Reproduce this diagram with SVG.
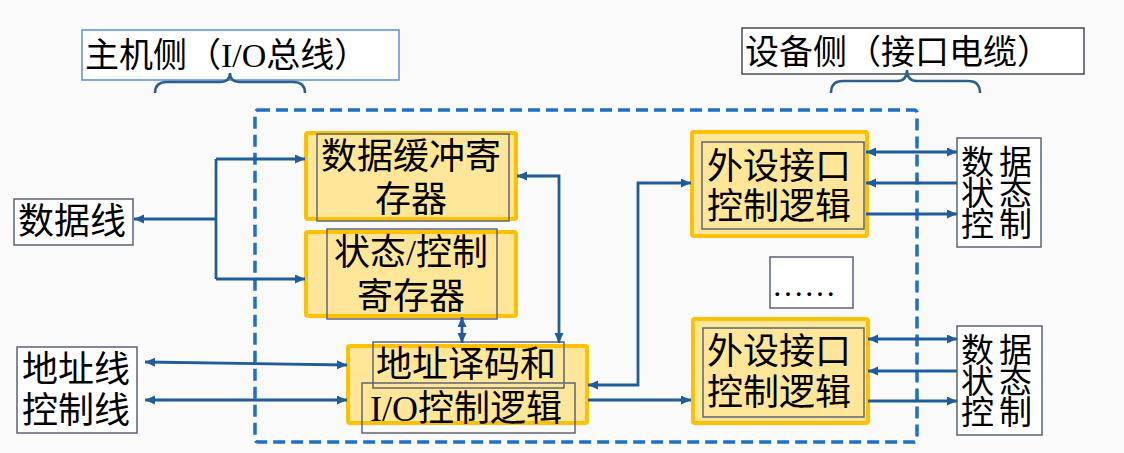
<svg xmlns="http://www.w3.org/2000/svg" width="1124" height="453" viewBox="0 0 1124 453">
<style>
  .t { font-family: "Liberation Serif", "Noto Sans CJK SC", serif; fill: #000; }
  .t34 { font-size: 34px; }
  .t36 { font-size: 36px; }
  .dev { font-size: 33px; letter-spacing: 5px; }
  .mid { text-anchor: middle; }
  .obox { fill: #ffe699; stroke: #ffc000; stroke-width: 4; }
  .ibox { fill: none; stroke: #5d6575; stroke-width: 1.5; }
  .lbox { fill: #ffffff; stroke: #5a6478; stroke-width: 1.5; }
  .conn { fill: none; stroke: #1f5c99; stroke-width: 2.8; }
  .brace { fill: none; stroke: #2e5f8a; stroke-width: 2.5; }
</style>
<defs>
  <marker id="arr" markerUnits="userSpaceOnUse" markerWidth="11" markerHeight="10" refX="10" refY="4.5" orient="auto-start-reverse">
    <path d="M0,0 L10,4.5 L0,9 z" fill="#1f5c99"/>
  </marker>
</defs>
<rect x="0" y="0" width="1124" height="453" fill="#fafafa"/>

<g id="host-title">
  <rect x="82" y="30" width="317" height="50" fill="#ffffff" stroke="#5b8fd9" stroke-width="1.5"/>
  <text class="t t34" x="85" y="67">主机侧（I/O总线）</text>
</g>
<g id="device-title">
  <rect x="742" y="28" width="342" height="46" fill="#ffffff" stroke="#444a55" stroke-width="1.5"/>
  <text class="t t34" x="745" y="64">设备侧（接口电缆）</text>
</g>
<g id="braces">
  <path class="brace" d="M155,93 Q155,82 167,82 L220,82 Q230,82 230,73 Q230,82 240,82 L293,82 Q305,82 305,93"/>
  <path class="brace" d="M831,93 Q831,81 843,81 L897,81 Q907,81 907,70 Q907,81 917,81 L968,81 Q980,81 980,93"/>
</g>

<g id="interface-boundary">
  <rect x="255" y="110" width="662" height="332" rx="3" fill="none" stroke="#1e6fc8" stroke-width="3.5" stroke-dasharray="12 6"/>
</g>

<g id="data-line">
  <rect class="lbox" x="14" y="199" width="119" height="46"/>
  <text class="t t36 mid" x="72" y="234">数据线</text>
</g>
<g id="addr-ctrl-line">
  <rect class="lbox" x="17" y="347" width="120" height="86"/>
  <text class="t t36 mid" x="76" y="382">地址线</text>
  <text class="t t36 mid" x="76" y="423">控制线</text>
</g>

<g id="data-buffer-reg">
  <rect class="obox" x="306" y="133" width="210" height="86" rx="2"/>
  <rect class="ibox" x="317" y="134" width="192" height="87"/>
  <text class="t t36 mid" x="411" y="169">数据缓冲寄</text>
  <text class="t t36 mid" x="411" y="212">存器</text>
</g>
<g id="status-ctrl-reg">
  <rect class="obox" x="306" y="232" width="210" height="84" rx="2"/>
  <rect class="ibox" x="327" y="229" width="170" height="90"/>
  <text class="t t36 mid" x="411" y="265">状态/控制</text>
  <text class="t t36 mid" x="411" y="309">寄存器</text>
</g>
<g id="addr-decoder">
  <rect class="obox" x="348" y="346" width="239" height="77" rx="2"/>
  <rect class="ibox" x="373" y="342" width="191" height="46"/>
  <rect class="ibox" x="362" y="383" width="213" height="50"/>
  <text class="t t36 mid" x="466" y="377">地址译码和</text>
  <text class="t t36 mid" x="466" y="421">I/O控制逻辑</text>
</g>

<g id="periph-ctrl-1">
  <rect class="obox" x="692" y="132" width="175" height="104" rx="2"/>
  <rect class="ibox" x="702" y="142" width="162" height="87"/>
  <text class="t t36 mid" x="779" y="179">外设接口</text>
  <text class="t t36 mid" x="779" y="219">控制逻辑</text>
</g>
<g id="ellipsis">
  <rect class="lbox" x="770" y="257" width="83" height="51"/>
  <text class="t" x="772" y="296" font-size="32">……</text>
</g>
<g id="periph-ctrl-2">
  <rect class="obox" x="693" y="319" width="175" height="104" rx="2"/>
  <rect class="ibox" x="703" y="328" width="161" height="89"/>
  <text class="t t36 mid" x="779" y="364">外设接口</text>
  <text class="t t36 mid" x="779" y="405">控制逻辑</text>
</g>

<g id="device-1">
  <rect class="lbox" x="957" y="138" width="84" height="109"/>
  <text class="t dev" x="961" y="174">数据</text>
  <text class="t dev" x="961" y="205">状态</text>
  <text class="t dev" x="961" y="236">控制</text>
</g>
<g id="device-2">
  <rect class="lbox" x="957" y="326" width="85" height="109"/>
  <text class="t dev" x="961" y="362">数据</text>
  <text class="t dev" x="961" y="393">状态</text>
  <text class="t dev" x="961" y="424">控制</text>
</g>

<g id="connectors">
  <path class="conn" d="M216,159 L216,279"/>
  <path class="conn" d="M216,219 L134,219" marker-end="url(#arr)"/>
  <path class="conn" d="M216,159 L305,159" marker-end="url(#arr)"/>
  <path class="conn" d="M216,279 L305,279" marker-end="url(#arr)"/>
  <path class="conn" d="M517,176 L559,176 L559,343" marker-start="url(#arr)" marker-end="url(#arr)"/>
  <path class="conn" d="M462,317 L462,343" marker-start="url(#arr)" marker-end="url(#arr)"/>
  <path class="conn" d="M145,362 L347,365" marker-start="url(#arr)" marker-end="url(#arr)"/>
  <path class="conn" d="M145,400 L347,400" marker-start="url(#arr)" marker-end="url(#arr)"/>
  <path class="conn" d="M588,385 L638,385 L638,183 L691,183" marker-start="url(#arr)" marker-end="url(#arr)"/>
  <path class="conn" d="M588,400 L691,400" marker-end="url(#arr)"/>
  <path class="conn" d="M866,152 L957,152" marker-start="url(#arr)" marker-end="url(#arr)"/>
  <path class="conn" d="M957,183 L866,183" marker-end="url(#arr)"/>
  <path class="conn" d="M866,214 L957,214" marker-end="url(#arr)"/>
  <path class="conn" d="M868,339 L957,339" marker-start="url(#arr)" marker-end="url(#arr)"/>
  <path class="conn" d="M957,371 L868,371" marker-end="url(#arr)"/>
  <path class="conn" d="M868,401 L957,401" marker-end="url(#arr)"/>
</g>
</svg>
